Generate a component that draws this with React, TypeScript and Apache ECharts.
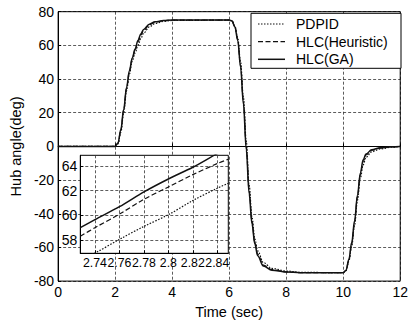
import React, { useEffect, useRef } from 'react';
import * as echarts from 'echarts';

// ---- data ----
const seriesNames = ['PDPID', 'HLC(Heuristic)', 'HLC(GA)'];

const mainTime = [0, 2.0, 2.1, 2.2, 2.3, 2.4, 2.5, 2.6, 2.7, 2.8, 2.9, 3.0, 3.2, 3.4, 3.7, 4.0, 6.0, 6.1, 6.2, 6.3, 6.4, 6.5, 6.6, 6.7, 6.8, 6.9, 7.0, 7.2, 7.5, 8.0, 8.5, 10.0, 10.1, 10.2, 10.3, 10.4, 10.5, 10.6, 10.7, 10.8, 11.0, 11.3, 11.7, 12.0];
const gaMain = [0, 0, 2, 10, 22, 35, 45, 52.5, 57.8, 62.9, 66.8, 69.5, 72.6, 74, 74.7, 75, 75, 74.5, 71, 63, 47, 25, -2, -28, -46, -58, -65, -71, -73.5, -74.6, -75, -75, -73.5, -67, -57, -44, -29, -16, -8, -4.5, -2, -0.8, -0.2, 0];
const heuristicMain = [0, 0, 1.8, 9.5, 21.5, 34.5, 44.5, 52, 57.2, 62, 66, 68.9, 72.2, 73.8, 74.6, 75, 75, 74.5, 71, 63.5, 48, 26.5, 0, -26, -44.5, -57, -64, -70.5, -73.2, -74.5, -75, -75, -73.6, -67.5, -58, -45, -30, -17, -9, -5, -2.3, -1, -0.3, 0];
const pdpidMain = [0, 0, 1.5, 8.5, 20, 33, 43, 50.5, 55.5, 60, 64, 67.3, 71, 73, 74.2, 74.8, 75, 74.6, 71.5, 64.5, 50, 29, 3, -23, -42, -55, -62, -69, -72.5, -74, -74.8, -75, -73.8, -68, -59, -46.5, -32, -19, -11, -6.5, -3.2, -1.5, -0.5, 0];

const insetTime = [2.728, 2.74, 2.76, 2.78, 2.8, 2.82, 2.84, 2.849];
const gaInset = [59.0, 59.65, 60.7, 61.9, 62.95, 63.9, 65.0, 65.4];
const heuristicInset = [58.3, 59.0, 60.1, 61.3, 62.3, 63.3, 64.2, 64.55];
const pdpidInset = [56.5, 56.95, 58.05, 59.1, 60.05, 61.2, 62.2, 62.6];

const insetXTicks = [2.74, 2.76, 2.78, 2.8, 2.82, 2.84];
const insetYTicks = [58, 60, 62, 64];
const insetXMin = 2.728, insetXMax = 2.849;
const insetYMin = 56.92, insetYMax = 64.87;

const FONT = 'Arial, "Liberation Sans", Helvetica, sans-serif';
const INK = '#111';
const dashStyles: any[] = [[1.5, 1.5], [5, 2.5], 'solid'];
const widths = [1.2, 1.2, 1.5];

function pairs(t: number[], v: number[]) {
  return t.map((x, i) => [x, v[i]]);
}

export default function App() {
  const ref = useRef<HTMLDivElement>(null);
  useEffect(() => {
    if (!ref.current) return;
    const chart = echarts.init(ref.current, null, { renderer: 'svg' });
    const mainSets = [pdpidMain, heuristicMain, gaMain];
    const insetSets = [pdpidInset, heuristicInset, gaInset];
    const splitLine = { show: true, lineStyle: { color: '#333', type: [3, 2] as any, width: 0.8 } };
    const axisLabel = { color: '#000', fontSize: 14, fontFamily: FONT, showMinLabel: true, showMaxLabel: true };

    const series: any[] = [];
    mainSets.forEach((vals, i) => {
      series.push({
        type: 'line', name: seriesNames[i], xAxisIndex: 0, yAxisIndex: 0,
        data: pairs(mainTime, vals), showSymbol: false, symbol: 'none',
        smooth: 0.35, smoothMonotone: 'x', z: 2,
        lineStyle: { color: INK, width: widths[i], type: dashStyles[i] },
      });
    });
    insetSets.forEach((vals, i) => {
      series.push({
        type: 'line', name: seriesNames[i] + ' inset', xAxisIndex: 1, yAxisIndex: 1,
        data: pairs(insetTime, vals), showSymbol: false, symbol: 'none',
        smooth: 0.3, z: 6, clip: true,
        lineStyle: { color: INK, width: widths[i], type: dashStyles[i] },
      });
    });

    chart.setOption({
      animation: false,
      backgroundColor: '#fff',
      textStyle: { fontFamily: FONT },
      grid: [
        { left: 49.3, right: 7.7, top: 11.7, bottom: 34.7, show: true, borderColor: '#000', borderWidth: 1, backgroundColor: 'transparent', z: 2 },
        { left: 80.3, top: 155.3, width: 148, height: 98, show: true, borderColor: '#000', borderWidth: 1, backgroundColor: '#fff', z: 3 },
      ],
      xAxis: [
        {
          type: 'value', gridIndex: 0, min: 0, max: 12, interval: 2,
          name: 'Time (sec)', nameLocation: 'middle', nameGap: 12,
          nameTextStyle: { fontSize: 14.5, color: '#000', fontFamily: FONT },
          axisLine: { show: true, lineStyle: { color: '#000' } },
          axisTick: { show: true, inside: true, length: 3, lineStyle: { color: '#000' } },
          axisLabel: { ...axisLabel, margin: 4 },
          splitLine,
        },
        {
          type: 'value', gridIndex: 1, min: insetXMin, max: insetXMax, z: 4,
          axisLine: { show: true, lineStyle: { color: '#000' } },
          axisTick: { show: true, inside: true, length: 3, customValues: insetXTicks, lineStyle: { color: '#000' } },
          axisLabel: { show: false, customValues: insetXTicks },
          splitLine,
        },
      ],
      yAxis: [
        {
          type: 'value', gridIndex: 0, min: -80, max: 80, interval: 20,
          name: 'Hub angle(deg)', nameLocation: 'middle', nameGap: 26,
          nameTextStyle: { fontSize: 14.5, color: '#000', fontFamily: FONT },
          axisLine: { show: true, lineStyle: { color: '#000' } },
          axisTick: { show: true, inside: true, length: 3, lineStyle: { color: '#000' } },
          axisLabel: { ...axisLabel, margin: 4 },
          splitLine,
        },
        {
          type: 'value', gridIndex: 1, min: insetYMin, max: insetYMax, z: 4,
          axisLine: { show: true, lineStyle: { color: '#000' } },
          axisTick: { show: true, inside: true, length: 3, customValues: insetYTicks, lineStyle: { color: '#000' } },
          axisLabel: { ...axisLabel, margin: 3, customValues: insetYTicks },
          splitLine,
        },
      ],
      series,
    });

    // legend
    const legendX0 = 258, legendX1 = 285, legendTextX = 296;
    const legendYs = [24, 41.7, 59.3];
    const graphics: any[] = [
      { type: 'rect', shape: { x: 251, y: 13.3, width: 150, height: 55 }, style: { fill: '#fff', stroke: '#000', lineWidth: 1 }, z: 10 },
    ];
    seriesNames.forEach((n, i) => {
      graphics.push({
        type: 'line', shape: { x1: legendX0, y1: legendYs[i], x2: legendX1, y2: legendYs[i] },
        style: { stroke: INK, lineWidth: widths[i], lineDash: dashStyles[i] === 'solid' ? null : dashStyles[i] }, z: 11,
      });
      graphics.push({
        type: 'text', x: legendTextX, y: legendYs[i],
        style: { text: n, fill: '#000', font: `14px ${FONT}`, verticalAlign: 'middle', align: 'left' }, z: 11,
      });
    });
    // inset x tick labels, placed through the inset axis scale
    const baseY = chart.convertToPixel({ yAxisIndex: 1 }, insetYMin) as number;
    insetXTicks.forEach((v) => {
      const px = chart.convertToPixel({ xAxisIndex: 1 }, v) as number;
      graphics.push({
        type: 'text', x: px, y: baseY + 3.5,
        style: { text: String(v), fill: '#000', font: `12.3px ${FONT}`, verticalAlign: 'top', align: 'center' }, z: 12,
      });
    });
    chart.setOption({ graphic: graphics });
    return () => chart.dispose();
  }, []);
  return <div ref={ref} style={{ position: 'fixed', left: 0, top: 0, width: 411, height: 324, background: '#fff' }} />;
}
